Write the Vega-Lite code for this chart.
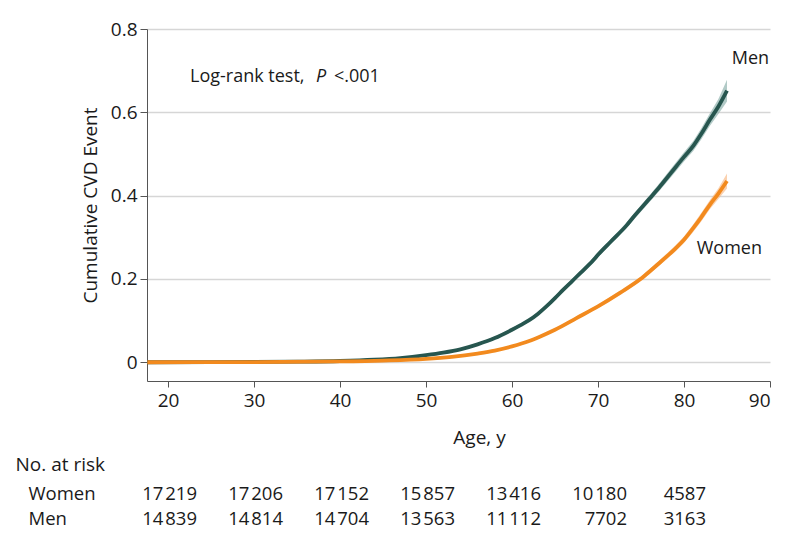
{
  "$schema": "https://vega.github.io/schema/vega-lite/v6.json",
  "padding": {"left": 15, "top": 20, "right": 10, "bottom": 5},
  "spacing": 8,
  "config": {
    "font": "Open Sans",
    "view": {"stroke": null},
    "axis": {"labelColor": "#1a1a1a", "titleColor": "#1a1a1a", "titleFontWeight": "normal", "domainColor": "#555555", "tickColor": "#555555", "labelFontSize": 19, "titleFontSize": 19}
  },
  "datasets": {
    "curves": [
      {"sex": "Men", "age": 17.6, "est": 0, "lo": 0, "hi": 0},
      {"sex": "Men", "age": 25, "est": 0.0003, "lo": 0.0002, "hi": 0.0004},
      {"sex": "Men", "age": 30, "est": 0.0008, "lo": 0.0006, "hi": 0.001},
      {"sex": "Men", "age": 35, "est": 0.0015, "lo": 0.0012, "hi": 0.0018},
      {"sex": "Men", "age": 40, "est": 0.003, "lo": 0.0025, "hi": 0.0035},
      {"sex": "Men", "age": 44, "est": 0.006, "lo": 0.005, "hi": 0.007},
      {"sex": "Men", "age": 47, "est": 0.01, "lo": 0.009, "hi": 0.011},
      {"sex": "Men", "age": 50, "est": 0.017, "lo": 0.015, "hi": 0.019},
      {"sex": "Men", "age": 52, "est": 0.023, "lo": 0.021, "hi": 0.025},
      {"sex": "Men", "age": 54, "est": 0.031, "lo": 0.029, "hi": 0.033},
      {"sex": "Men", "age": 56, "est": 0.043, "lo": 0.04, "hi": 0.046},
      {"sex": "Men", "age": 58, "est": 0.058, "lo": 0.055, "hi": 0.061},
      {"sex": "Men", "age": 60, "est": 0.078, "lo": 0.074, "hi": 0.082},
      {"sex": "Men", "age": 61, "est": 0.089, "lo": 0.085, "hi": 0.093},
      {"sex": "Men", "age": 62, "est": 0.101, "lo": 0.097, "hi": 0.105},
      {"sex": "Men", "age": 63, "est": 0.116, "lo": 0.112, "hi": 0.12},
      {"sex": "Men", "age": 64, "est": 0.134, "lo": 0.13, "hi": 0.138},
      {"sex": "Men", "age": 65, "est": 0.154, "lo": 0.149, "hi": 0.159},
      {"sex": "Men", "age": 66, "est": 0.175, "lo": 0.17, "hi": 0.18},
      {"sex": "Men", "age": 67, "est": 0.195, "lo": 0.19, "hi": 0.2},
      {"sex": "Men", "age": 68, "est": 0.215, "lo": 0.21, "hi": 0.22},
      {"sex": "Men", "age": 69.5, "est": 0.246, "lo": 0.24, "hi": 0.252},
      {"sex": "Men", "age": 70, "est": 0.258, "lo": 0.252, "hi": 0.264},
      {"sex": "Men", "age": 71.5, "est": 0.29, "lo": 0.284, "hi": 0.296},
      {"sex": "Men", "age": 73.3, "est": 0.328, "lo": 0.321, "hi": 0.335},
      {"sex": "Men", "age": 74.1, "est": 0.348, "lo": 0.341, "hi": 0.355},
      {"sex": "Men", "age": 76, "est": 0.393, "lo": 0.385, "hi": 0.401},
      {"sex": "Men", "age": 77.2, "est": 0.422, "lo": 0.413, "hi": 0.431},
      {"sex": "Men", "age": 78.5, "est": 0.455, "lo": 0.445, "hi": 0.465},
      {"sex": "Men", "age": 80, "est": 0.493, "lo": 0.482, "hi": 0.504},
      {"sex": "Men", "age": 81.1, "est": 0.52, "lo": 0.508, "hi": 0.532},
      {"sex": "Men", "age": 82, "est": 0.548, "lo": 0.535, "hi": 0.561},
      {"sex": "Men", "age": 83, "est": 0.582, "lo": 0.567, "hi": 0.597},
      {"sex": "Men", "age": 84, "est": 0.614, "lo": 0.596, "hi": 0.632},
      {"sex": "Men", "age": 85, "est": 0.652, "lo": 0.626, "hi": 0.678},
      {"sex": "Women", "age": 17.6, "est": 0, "lo": 0, "hi": 0},
      {"sex": "Women", "age": 30, "est": 0.0005, "lo": 0.0004, "hi": 0.0006},
      {"sex": "Women", "age": 40, "est": 0.002, "lo": 0.0017, "hi": 0.0023},
      {"sex": "Women", "age": 45, "est": 0.004, "lo": 0.0035, "hi": 0.0045},
      {"sex": "Women", "age": 50, "est": 0.008, "lo": 0.007, "hi": 0.009},
      {"sex": "Women", "age": 53, "est": 0.013, "lo": 0.012, "hi": 0.014},
      {"sex": "Women", "age": 56, "est": 0.021, "lo": 0.019, "hi": 0.023},
      {"sex": "Women", "age": 58, "est": 0.028, "lo": 0.026, "hi": 0.03},
      {"sex": "Women", "age": 60, "est": 0.038, "lo": 0.035, "hi": 0.041},
      {"sex": "Women", "age": 62, "est": 0.051, "lo": 0.048, "hi": 0.054},
      {"sex": "Women", "age": 63.3, "est": 0.062, "lo": 0.059, "hi": 0.065},
      {"sex": "Women", "age": 65, "est": 0.078, "lo": 0.075, "hi": 0.081},
      {"sex": "Women", "age": 67.5, "est": 0.106, "lo": 0.102, "hi": 0.11},
      {"sex": "Women", "age": 70, "est": 0.134, "lo": 0.13, "hi": 0.138},
      {"sex": "Women", "age": 72.6, "est": 0.167, "lo": 0.162, "hi": 0.172},
      {"sex": "Women", "age": 74.9, "est": 0.199, "lo": 0.194, "hi": 0.204},
      {"sex": "Women", "age": 76, "est": 0.218, "lo": 0.212, "hi": 0.224},
      {"sex": "Women", "age": 77, "est": 0.236, "lo": 0.23, "hi": 0.242},
      {"sex": "Women", "age": 78, "est": 0.254, "lo": 0.247, "hi": 0.261},
      {"sex": "Women", "age": 79, "est": 0.273, "lo": 0.266, "hi": 0.28},
      {"sex": "Women", "age": 80, "est": 0.294, "lo": 0.286, "hi": 0.302},
      {"sex": "Women", "age": 81, "est": 0.32, "lo": 0.311, "hi": 0.329},
      {"sex": "Women", "age": 82, "est": 0.348, "lo": 0.338, "hi": 0.358},
      {"sex": "Women", "age": 83, "est": 0.378, "lo": 0.367, "hi": 0.389},
      {"sex": "Women", "age": 84, "est": 0.405, "lo": 0.392, "hi": 0.418},
      {"sex": "Women", "age": 85, "est": 0.435, "lo": 0.417, "hi": 0.453}
    ],
    "labels": [
      {"label": "Men", "age": 85.55, "value": 0.727},
      {"label": "Women", "age": 81.48, "value": 0.271}
    ],
    "note": [
      {"age": 22.56, "value": 0.684}
    ],
    "risk": [
      {"sex": "Women", "age": 20, "n": "17\u200a219"},
      {"sex": "Women", "age": 30, "n": "17\u200a206"},
      {"sex": "Women", "age": 40, "n": "17\u200a152"},
      {"sex": "Women", "age": 50, "n": "15\u200a857"},
      {"sex": "Women", "age": 60, "n": "13\u200a416"},
      {"sex": "Women", "age": 70, "n": "10\u200a180"},
      {"sex": "Women", "age": 80, "n": "4587"},
      {"sex": "Men", "age": 20, "n": "14\u200a839"},
      {"sex": "Men", "age": 30, "n": "14\u200a814"},
      {"sex": "Men", "age": 40, "n": "14\u200a704"},
      {"sex": "Men", "age": 50, "n": "13\u200a563"},
      {"sex": "Men", "age": 60, "n": "11\u200a112"},
      {"sex": "Men", "age": 70, "n": "7702"},
      {"sex": "Men", "age": 80, "n": "3163"}
    ]
  },
  "vconcat": [
    {
      "width": 623,
      "height": 352,
      "layer": [
        {
          "data": {"name": "curves"},
          "mark": {"type": "area", "opacity": 0.6},
          "encoding": {
            "x": {"field": "age", "type": "quantitative", "scale": {"domain": [17.56, 90], "nice": false, "zero": false},
              "axis": {"values": [20, 30, 40, 50, 60, 70, 80, 90], "grid": false, "tickSize": 6, "labelPadding": 4, "title": "Age, y", "titleX": 332, "titlePadding": 18}},
            "y": {"field": "lo", "type": "quantitative", "scale": {"domain": [-0.045, 0.8], "nice": false, "zero": false},
              "axis": {"values": [0, 0.2, 0.4, 0.6, 0.8], "labelExpr": "datum.value == 0 ? '0' : format(datum.value, '.1f')", "grid": true, "gridColor": "#d6d6d6", "gridWidth": 1.5, "tickSize": 7, "labelPadding": 3, "title": "Cumulative CVD Event", "titlePadding": 10}},
            "y2": {"field": "hi"},
            "color": {"field": "sex", "type": "nominal", "scale": {"domain": ["Men", "Women"], "range": ["#7fa7a2", "#f7b37a"]}, "legend": null}
          }
        },
        {
          "data": {"name": "curves"},
          "mark": {"type": "line", "strokeWidth": 3.8, "interpolate": "monotone"},
          "encoding": {
            "x": {"field": "age", "type": "quantitative"},
            "y": {"field": "est", "type": "quantitative"},
            "detail": {"field": "sex", "type": "nominal"},
            "stroke": {"field": "sex", "type": "nominal", "scale": {"domain": ["Men", "Women"], "range": ["#27564f", "#f28a1e"]}, "legend": null}
          }
        },
        {
          "data": {"name": "labels"},
          "mark": {"type": "text", "align": "left", "baseline": "middle", "fontSize": 18, "color": "#1a1a1a"},
          "encoding": {
            "x": {"field": "age", "type": "quantitative"},
            "y": {"field": "value", "type": "quantitative"},
            "text": {"field": "label"}
          }
        },
        {
          "data": {"name": "note"},
          "mark": {"type": "text", "align": "left", "baseline": "middle", "fontSize": 18, "color": "#1a1a1a", "text": "Log-rank test,"},
          "encoding": {
            "x": {"field": "age", "type": "quantitative"},
            "y": {"field": "value", "type": "quantitative"}
          }
        },
        {
          "data": {"name": "note"},
          "mark": {"type": "text", "align": "left", "baseline": "middle", "fontSize": 18, "fontStyle": "italic", "color": "#1a1a1a", "text": "P", "dx": 126},
          "encoding": {
            "x": {"field": "age", "type": "quantitative"},
            "y": {"field": "value", "type": "quantitative"}
          }
        },
        {
          "data": {"name": "note"},
          "mark": {"type": "text", "align": "left", "baseline": "middle", "fontSize": 18, "color": "#1a1a1a", "text": "<.001", "dx": 144},
          "encoding": {
            "x": {"field": "age", "type": "quantitative"},
            "y": {"field": "value", "type": "quantitative"}
          }
        }
      ]
    },
    {
      "width": 623,
      "height": 50,
      "data": {"name": "risk"},
      "layer": [
        {
          "transform": [{"filter": "datum.age < 80"}],
          "mark": {"type": "text", "align": "right", "baseline": "middle", "fontSize": 18.5, "color": "#1a1a1a", "dx": 29},
          "encoding": {
            "x": {"field": "age", "type": "quantitative", "scale": {"domain": [17.56, 90], "nice": false, "zero": false}, "axis": null},
            "y": {"field": "sex", "type": "nominal", "sort": ["Women", "Men"], "scale": {"type": "point", "padding": 0.5},
              "axis": {"domain": false, "ticks": false, "labelAlign": "left", "labelFontSize": 18.5, "labelPadding": 119, "title": "No. at risk", "titleAngle": 0, "titleAlign": "left", "titleBaseline": "middle", "titleX": -132, "titleY": -16.5, "titleFontSize": 19}},
            "text": {"field": "n"}
          }
        },
        {
          "transform": [{"filter": "datum.age >= 80"}],
          "mark": {"type": "text", "align": "right", "baseline": "middle", "fontSize": 18.5, "color": "#1a1a1a", "dx": 22},
          "encoding": {
            "x": {"field": "age", "type": "quantitative"},
            "y": {"field": "sex", "type": "nominal", "sort": ["Women", "Men"]},
            "text": {"field": "n"}
          }
        }
      ]
    }
  ]
}
